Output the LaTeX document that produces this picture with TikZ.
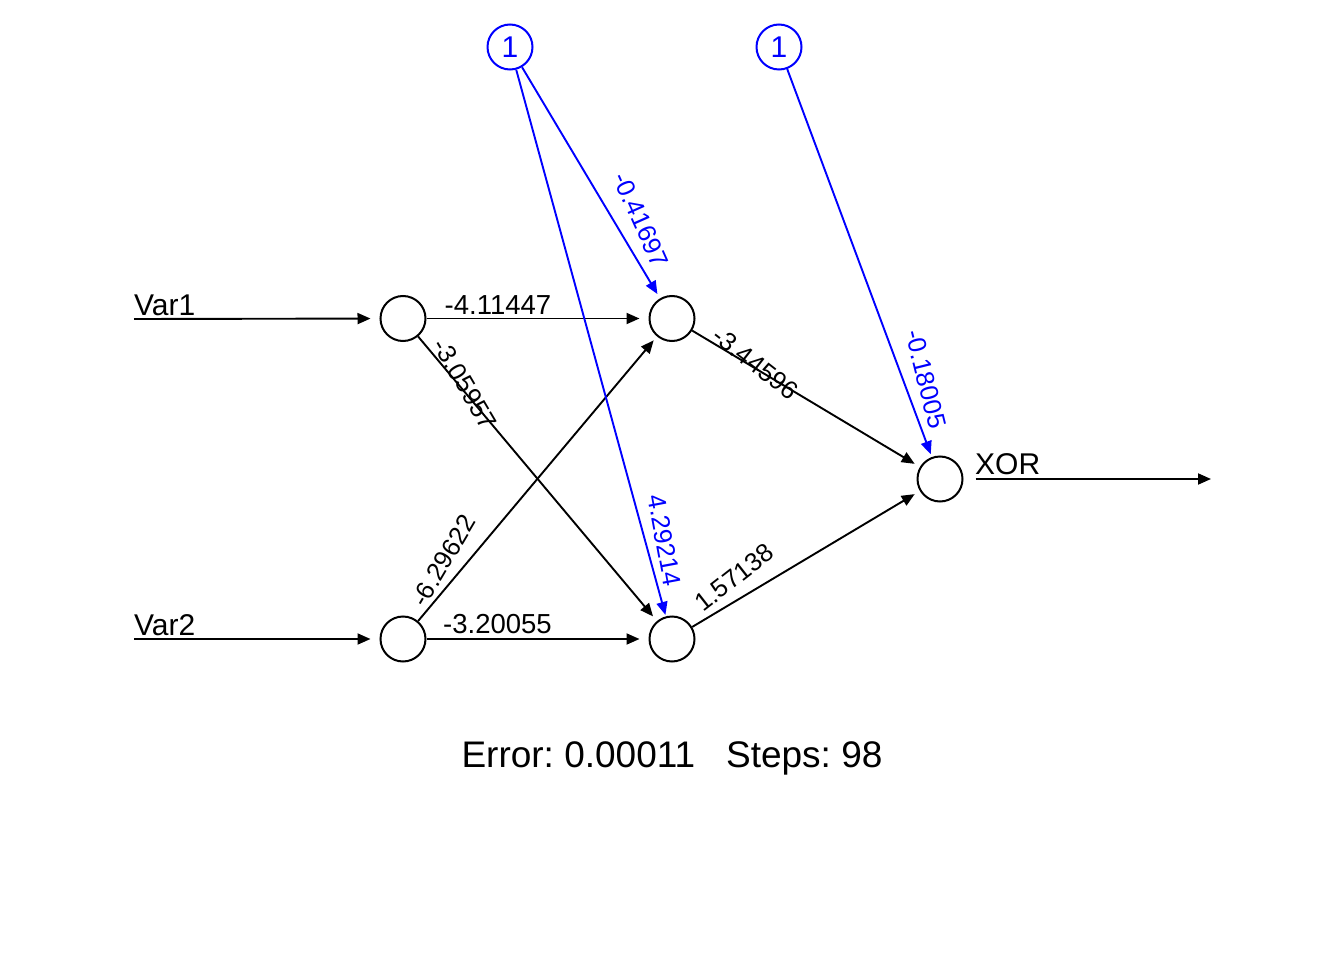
\documentclass[tikz,border=0pt]{standalone}
\usepackage{fontspec}
\setmainfont{Liberation Sans}
\usetikzlibrary{arrows.meta}
\definecolor{rblue}{RGB}{0,0,255}
\frenchspacing
\begin{document}
\begin{tikzpicture}[x=1pt,y=-1pt,
  neuron/.style={circle,draw,line width=2pt,minimum size=45pt,inner sep=0pt},
  bias/.style={neuron,draw=rblue,text=rblue,font=\fontsize{30}{36}\selectfont},
  conn/.style={line width=1.9pt,-{Triangle[length=13pt,width=11pt]}},
  bconn/.style={conn,draw=rblue,color=rblue},
  wlab/.style={font=\fontsize{27.5}{32}\selectfont,inner sep=0pt},
  rlab/.style={font=\fontsize{25.5}{30}\selectfont,inner sep=0pt},
  blab/.style={rlab,text=rblue},
  iolab/.style={font=\fontsize{30}{36}\selectfont,inner sep=0pt,anchor=base west}]
\useasboundingbox (0,0) rectangle (1344,960);
\fill[white] (0,0) rectangle (1344,960);

% nodes
\node[neuron] (i1) at (403,318.5) {};
\node[neuron] (i2) at (403,639) {};
\node[neuron] (h1) at (672,318.5) {};
\node[neuron] (h2) at (672,639) {};
\node[neuron] (o) at (940,479) {};
\node[bias] (b1) at (510,47) {1};
\node[bias] (b2) at (779,47) {1};

% inputs / output
\coordinate (v1) at (134,319);
\coordinate (v2) at (134,639);
\coordinate (xo) at (1211,479);
\node[iolab] (lv1) at (134,315) {Var1};
\node[iolab] (lv2) at (134,635) {Var2};
\node[iolab] (lxor) at (975,474.5) {XOR};
\draw[conn,shorten >=9pt] (v1) -- (i1);
\draw[conn,shorten >=9pt] (v2) -- (i2);
\draw[conn,shorten <=12pt] (o) -- (xo);

% weights
\draw[conn,shorten >=9pt] (i1) -- (h1);
\draw[conn,shorten >=6pt] (i1) -- (h2);
\draw[conn,shorten >=5pt] (i2) -- (h1);
\draw[conn,shorten >=9pt] (i2) -- (h2);
\draw[conn,shorten >=6pt] (h1) -- (o);
\draw[conn,shorten >=6pt] (h2) -- (o);
\draw[bconn,shorten >=5pt] (b1) -- (h1);
\draw[bconn,shorten >=1.5pt] (b1) -- (h2);
\draw[bconn,shorten >=3pt] (b2) -- (o);

% labels
\node[wlab,anchor=base] (w1) at (498,314) {-4.11447};
\node[wlab,anchor=base] (w2) at (497.5,633.5) {-3.20055};
\node[rlab,rotate=-59.5] (w3) at (465,384) {-3.05957};
\node[rlab,rotate=59.5] (w4) at (443.5,560.5) {-6.29622};
\node[rlab,rotate=-38] (w5) at (755.5,363.5) {-3.44596};
\node[rlab,rotate=38] (w6) at (734,577.5) {1.57138};
\node[blab,rotate=-66] (w7) at (641,220) {-0.41697};
\node[blab,rotate=-79.5] (w8) at (664.5,540.5) {4.29214};
\node[blab,rotate=-76] (w9) at (926,379) {-0.18005};

\node[font=\fontsize{37}{44}\selectfont,anchor=base,inner sep=0pt] (err) at (672,767.5) {Error: 0.00011\ \ \ Steps: 98};
\end{tikzpicture}
\end{document}
